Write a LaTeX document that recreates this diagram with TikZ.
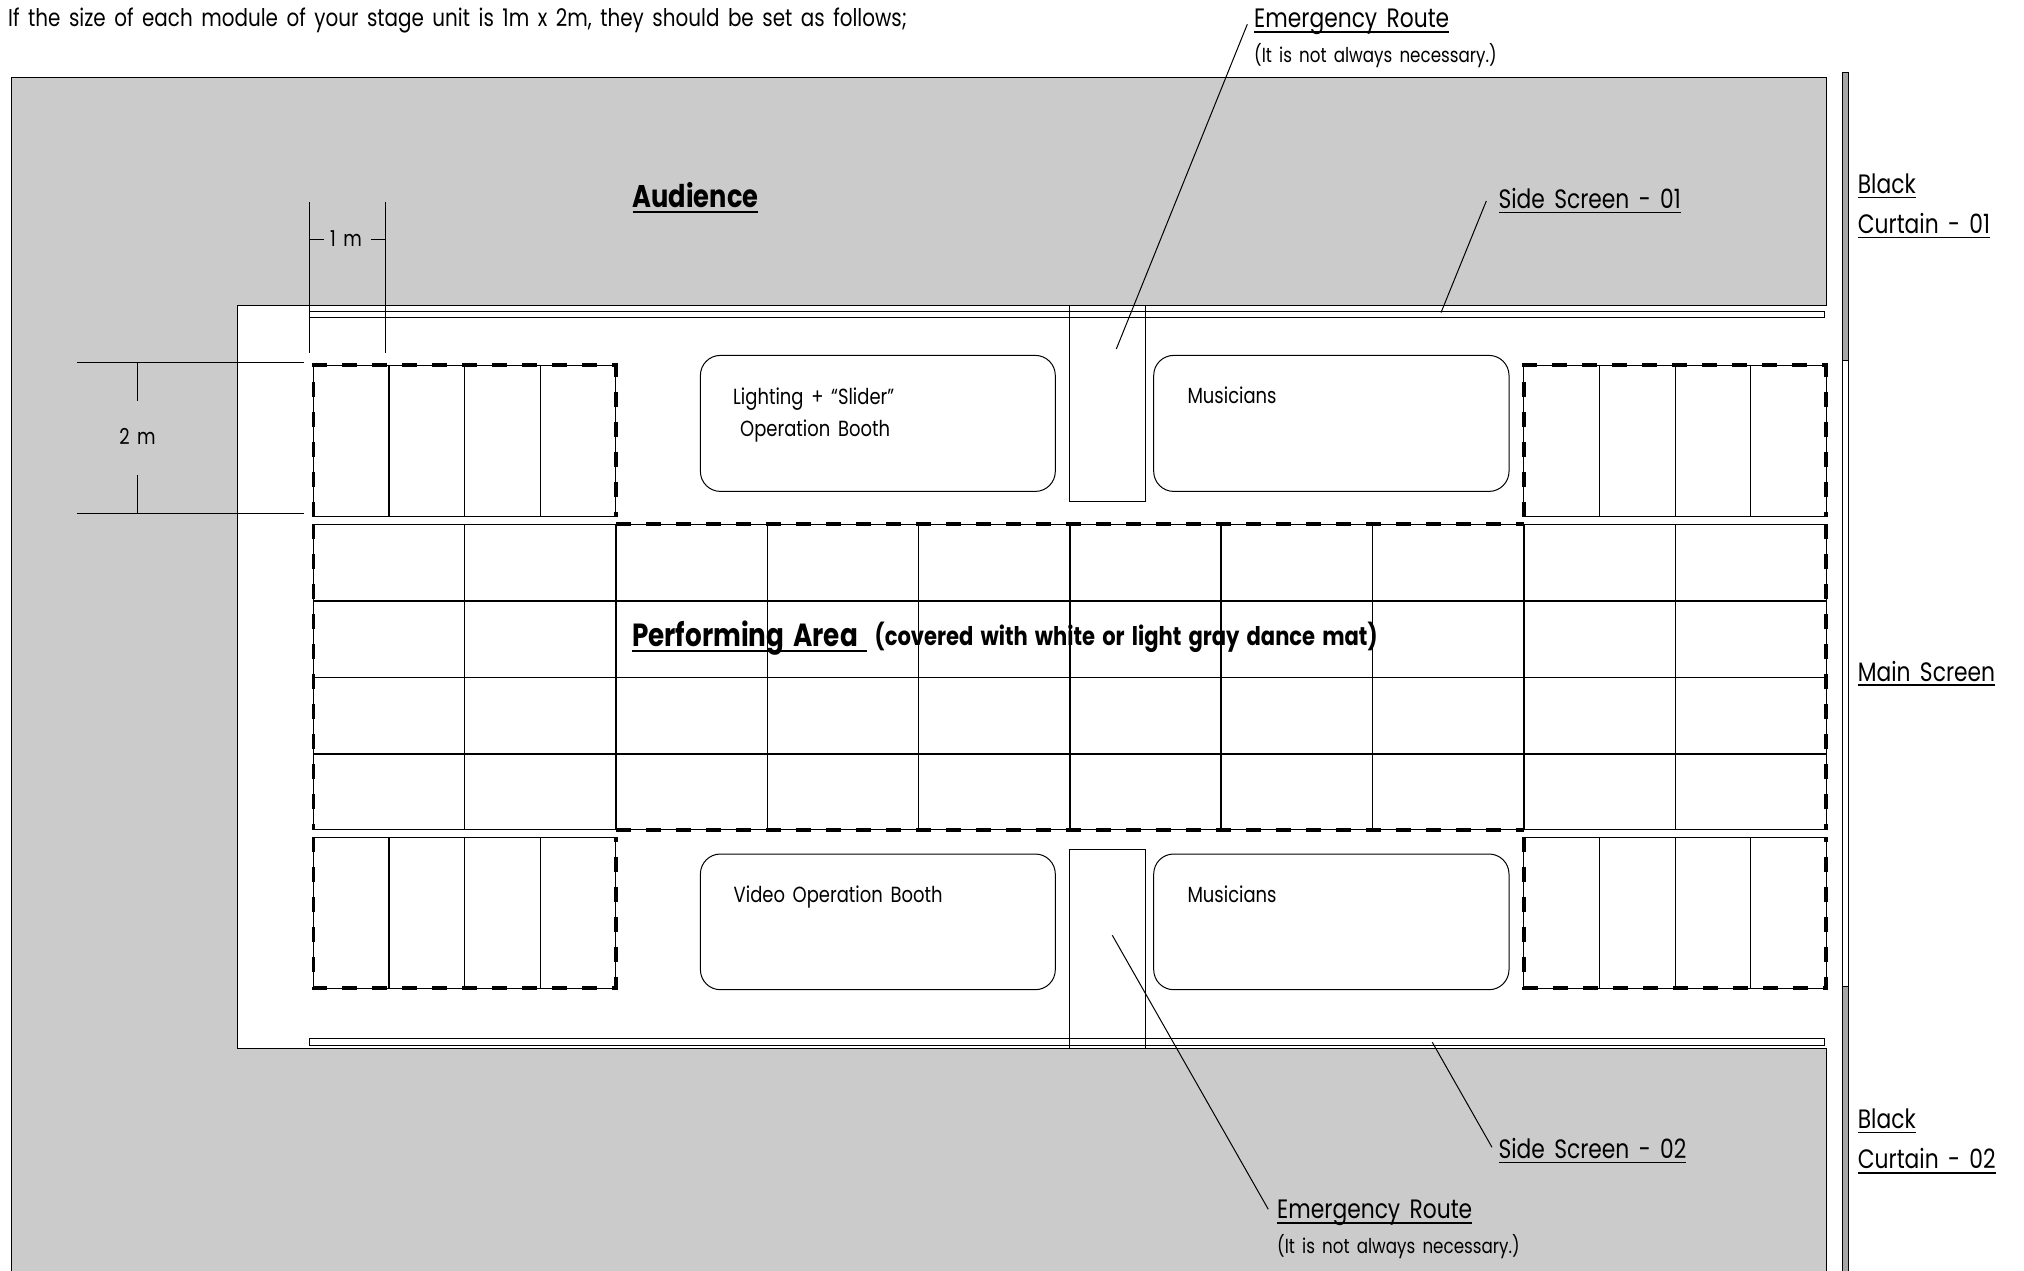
\documentclass[tikz,border=0pt]{standalone}
\usepackage{fontspec}
\setmainfont{Poppins}[FakeStretch=0.82,WordSpace=1.6]
\newcommand{\ulbl}[1]{\setbox0\hbox{#1}\rlap{\rule[-.18em]{\wd0}{.06em}}\box0}
\definecolor{seatgray}{HTML}{CBCBCB}
\definecolor{curtaingray}{HTML}{A6A6A6}
\begin{document}
\begin{tikzpicture}[x=1pt,y=-1pt,thin line/.style={line width=1pt},dash line/.style={line width=3.8pt,dash pattern=on 15pt off 15pt},text node/.style={anchor=base west,inner sep=0pt,yshift=-1pt,font=\fontsize{26.6}{30}\selectfont},small node/.style={anchor=base west,inner sep=0pt,font=\fontsize{21.9}{26}\selectfont},bold node/.style={anchor=base west,inner sep=0pt,font=\fontsize{31.3}{34}\selectfont\bfseries}]
\useasboundingbox (0,0) rectangle (2024,1271);
% seating and stage
\fill[white] (0,0) rectangle (2024,1271);
\draw[thin line,fill=seatgray] (11,78) rectangle (1826,1280);
\draw[thin line,fill=white] (1826,305) -- (237.5,305) -- (237.5,1048.7) -- (1826,1048.7);
\fill[white] (1820,305.5) rectangle (1832,1048.2);
% side screens
\draw[thin line] (309,311) rectangle (1824.2,317.3);
\draw[thin line] (309,1038.3) rectangle (1824.2,1045);
% curtains and main screen
\draw[thin line,fill=curtaingray] (1842,73) rectangle (1848.5,360.7);
\draw[thin line] (1842,360.7) rectangle (1848.5,986.7);
\draw[thin line,fill=curtaingray] (1842,986.7) rectangle (1848.5,1280);
% booths and routes
\foreach \ytop/\ybot in {355.4/491.4,854/989.7}{
\draw[thin line,rounded corners=20pt] (700.4,\ytop) rectangle (1055.3,\ybot);
\draw[thin line,rounded corners=20pt] (1153.7,\ytop) rectangle (1509,\ybot);
}
\draw[thin line] (1069.5,305.4) rectangle (1145.3,501.4);
\draw[thin line] (1069.5,849.3) rectangle (1145.3,1048.7);
% centre grid
\foreach \gx/\gw in {313.4/1,464.7/1.2,616/1.6,767.3/1.6,918.6/1.2,1069.9/1.6,1221.2/1.6,1372.5/1.6,1523.8/1.6,1675.1/1,1826/1}
\draw[line width=\gw pt] (\gx,524.3) -- (\gx,829.7);
\foreach \gy/\gw in {524.3/1,600.7/1.6,677.5/1,754/1.6,829.7/1.2}
\draw[line width=\gw pt] (313.4,\gy) -- (1826,\gy);
% the four side blocks
\foreach \bx/\ka/\kb/\kc in {313.4/1.6/1.6/1,1523.8/1.6/1/1.6}{
\foreach \ytop/\ybot in {365.3/516.7,837.3/988.3}{
\draw[thin line] (\bx,\ytop) rectangle (\bx+302.4,\ybot);
\draw[line width=\ka pt] (\bx+75.6,\ytop) -- (\bx+75.6,\ybot);
\draw[line width=\kb pt] (\bx+151.2,\ytop) -- (\bx+151.2,\ybot);
\draw[line width=\kc pt] (\bx+226.8,\ytop) -- (\bx+226.8,\ybot);
}
\draw[dash line] (\bx,516.7) -- (\bx,365.3) -- (\bx+302.4,365.3) -- (\bx+302.4,516.7);
\draw[dash line] (\bx,837.3) -- (\bx,988.3) -- (\bx+302.4,988.3) -- (\bx+302.4,837.3);
}
% outline of the performing area
\draw[dash line] (616,524.3) -- (1523.8,524.3);
\draw[dash line] (616,829.7) -- (1523.8,829.7);
\draw[dash line] (313.4,524.3) -- (313.4,829.7);
\draw[dash line] (1826,524.3) -- (1826,829.7);
% dimensions
\draw[thin line] (309,202.3) -- (309,352.7);
\draw[thin line] (385.3,202.3) -- (385.3,352.7);
\draw[thin line] (309,239) -- (323.7,239);
\draw[thin line] (370.5,239) -- (385.3,239);
\draw[thin line] (77,362.7) -- (303.6,362.7);
\draw[thin line] (77,513) -- (303.6,513);
\draw[thin line] (137,362.7) -- (137,400.7);
\draw[thin line] (137,475) -- (137,513);
\node[small node,anchor=center] (one) at (346,239) {1 m};
\node[small node,anchor=center] (two) at (137.5,436) {2 m};
% texts
\node[small node,font=\fontsize{24.3}{26}\selectfont] (intro) at (8,27) {If the size of each module of your stage unit is 1m x 2m, they should be set as follows;};
\node[text node] (route a) at (1254,27) {\ulbl{Emergency Route}};
\node[small node,font=\fontsize{20.4}{26}\selectfont] (note a) at (1254,62.5) {(It is not always necessary.)};
\node[bold node] (audience) at (632.5,207) {\ulbl{Audience}};
\node[text node] (screen a) at (1498.3,207.7) {\ulbl{Side Screen - 01}};
\node[text node] (black a) at (1857.6,192.7) {\ulbl{Black}};
\node[text node] (curtain a) at (1857.6,232.7) {\ulbl{Curtain - 01}};
\node[text node] (main) at (1857.6,680) {\ulbl{Main Screen}};
\node[text node] (black b) at (1857.6,1127.7) {\ulbl{Black}};
\node[text node] (curtain b) at (1857.6,1167.7) {\ulbl{Curtain - 02}};
\node[text node] (screen b) at (1498.3,1157.7) {\ulbl{Side Screen - 02}};
\node[text node] (route b) at (1277,1217.7) {\ulbl{Emergency Route}};
\node[small node,font=\fontsize{20.4}{26}\selectfont] (note b) at (1277,1253.3) {(It is not always necessary.)};
\node[small node] (light a) at (733,404) {Lighting + “Slider”};
\node[small node] (light b) at (740,436) {Operation Booth};
\node[small node] (musi a) at (1187.3,403.6) {Musicians};
\node[small node] (video) at (733.5,902.7) {Video Operation Booth};
\node[small node] (musi b) at (1187.3,902.7) {Musicians};
\node[bold node,font=\fontsize{32}{34}\selectfont\bfseries] (perf) at (632,646.5) {\ulbl{Performing Area\ }};
\node[bold node,font=\fontsize{25.7}{28}\selectfont\bfseries] (perf note) at (874.5,645) {(covered with white or light gray dance mat)};
% leader lines
\coordinate (ra) at (1247.3,24.3);
\coordinate (rb) at (1116.3,349);
\coordinate (sa) at (1486.3,201);
\coordinate (sb) at (1441,312.6);
\coordinate (rc) at (1268.3,1209.3);
\coordinate (rd) at (1112.3,935.3);
\coordinate (sc) at (1492,1147.3);
\coordinate (sd) at (1432.3,1042.3);
\path[thin line,draw]
	(ra) edge (rb)
	(sa) edge (sb)
	(rc) edge (rd)
	(sc) edge (sd)
	;
\end{tikzpicture}
\end{document}
